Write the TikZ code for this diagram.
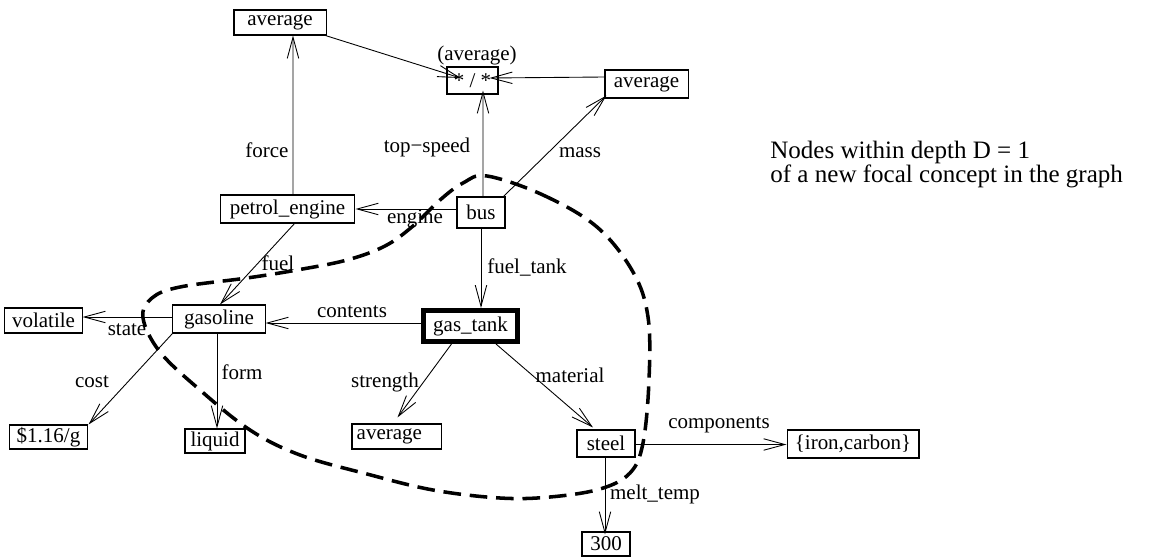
\documentclass[tikz,border=0pt]{standalone}
\usepackage{fontspec}
\setmainfont{Liberation Serif}
\usetikzlibrary{arrows.meta,calc}
\begin{document}
\begin{tikzpicture}[x=0.567pt,y=-0.567pt,
  font=\fontsize{11.9}{14}\selectfont,
  box/.style={draw, line width=0.6pt, inner sep=0pt},
  arr/.style={-{Straight Barb[length=12pt,width=6.5pt]}, line width=0.5pt},
  lbl/.style={inner sep=0pt},
  note/.style={inner sep=0pt, anchor=base west, font=\fontsize{14.2}{17}\selectfont},
  hull/.style={line width=2pt, dash pattern=on 10pt off 5pt}]
\useasboundingbox (0,0) rectangle (1159,557);
% nodes
\node[box, minimum width=52.2pt, minimum height=14.2pt] (avgT) at (280,22.5) {average};
\node[box, minimum width=28.9pt, minimum height=15.3pt] (star) at (472.5,80.5) {* / *};
\node[lbl] (lavg) at (477,55) {(average)};
\node[box, minimum width=47.1pt, minimum height=15.9pt] (avgR) at (646.5,84) {average};
\node[box, minimum width=27.2pt, minimum height=17.6pt] (bus) at (481,212.5) {bus};
\node[box, minimum width=76.5pt, minimum height=15.9pt] (pe) at (287.5,209) {petrol\_engine};
\node[box, minimum width=52.2pt, minimum height=15.9pt] (gas) at (219,319) {gasoline};
\node[box, minimum width=43.7pt, minimum height=14.2pt] (vol) at (43.5,320.5) {volatile};
\node[box, minimum width=43.7pt, minimum height=13.6pt] (cost) at (48.5,437) {\$1.16/g};
\node[box, minimum width=34pt, minimum height=13.6pt] (liq) at (215,441) {liquid};
\node[draw, line width=2.8pt, inner sep=0pt, minimum width=53.3pt, minimum height=17.6pt] (gt) at (470.5,326) {gas\_tank};
\node[box, minimum width=50.5pt, minimum height=14.2pt, label={[anchor=west,inner sep=0pt,xshift=2.8pt]west:average}] (avgB) at (396.5,436.5) {};
\node[box, minimum width=32.9pt, minimum height=15.3pt] (steel) at (606,443.5) {steel};
\node[box, minimum width=74.8pt, minimum height=15.9pt] (iron) at (853,444) {\{iron,carbon\}};
\node[box, minimum width=27.2pt, minimum height=13.6pt] (t300) at (606,544) {300};
% dashed boundary
\draw[hull] plot[smooth cycle, tension=0.6] coordinates {
 (487,176) (543,195) (597,227) (633,272) (648,317) (649,380) (643,443)
 (630,473) (600,489) (550,497) (500,498) (433,490) (367,474) (300,455)
 (250,430) (200,390) (160,352) (143,318) (152,298) (180,287) (247,278)
 (297,270) (347,260) (385,246) (413,226) (440,200) (463,183)};
% helper coordinates inside */* box
\coordinate (starL) at ($(star.center)+(-12,-2.5)$);
\coordinate (starR) at ($(star.center)+(17,-2.5)$);
% edges
\draw[arr] ($(pe.north)+(5.5,0)$) -- ($(avgT.south)+(13,0)$);
\draw[arr] ($(avgT.south east)+(-1,0)$) -- (starL);
\draw[arr] ($(avgR.west)+(0,-7)$) -- (starR);
\draw[arr] ($(bus.north)+(2,0)$) -- ($(star.south)+(10.5,-4)$);
\draw[arr] ($(bus.north east)+(-2,0)$) -- ($(avgR.south west)+(2,-3)$);
\draw[arr] (pe.east -| bus.west) -- (pe.east);
\draw[arr] (bus.south) -- (bus.south |- gt.north);
\draw[arr] ($(pe.south)+(7,0)$) -- ($(gas.north)+(1,0)$);
\draw[arr] ($(gt.west)+(0,-3)$) -- ($(gas.east)+(0,4)$);
\draw[arr] ($(gas.west)+(0,-2)$) -- ($(vol.east)+(0,-3.5)$);
\draw[arr] (gas.south west) -- ($(cost.north east)+(1,0)$);
\draw[arr] ($(gas.south)+(-2,0)$) -- ($(liq.north)+(2,0)$);
\draw[arr] ($(gt.south)+(-19,0)$) -- ($(avgB.north)+(1,-6)$);
\draw[arr] ($(gt.south)+(25.5,0)$) -- ($(steel.north)+(-13,-2)$);
\draw[arr] ($(steel.east)+(0,1)$) -- ($(iron.west)+(0,0.5)$);
\draw[arr] ($(steel.south)+(-1,0)$) -- ($(t300.north)+(-1,3)$);
% edge labels
\node[lbl] (lforce) at (267,150) {force};
\node[lbl] (ltop) at (427,147) {top−speed};
\node[lbl] (lmass) at (580,153) {mass};
\node[lbl] (lengine) at (415,219) {engine};
\node[lbl] (lfueltank) at (527,267) {fuel\_tank};
\node[lbl] (lfuel) at (278,263) {fuel};
\node[lbl] (lcontents) at (352,312) {contents};
\node[lbl] (lstate) at (127,330) {state};
\node[lbl] (lcost) at (92,382) {cost};
\node[lbl] (lform) at (242,372) {form};
\node[lbl] (lstrength) at (385,382) {strength};
\node[lbl] (lmaterial) at (570,375) {material};
\node[lbl] (lcomp) at (719,425) {components};
\node[lbl] (lmelt) at (655,494) {melt\_temp};
% annotation
\node[note] (note1) at (770,158) {Nodes within depth D = 1};
\node[note] (note2) at (770,182) {of a new focal concept in the graph};
\end{tikzpicture}
\end{document}
